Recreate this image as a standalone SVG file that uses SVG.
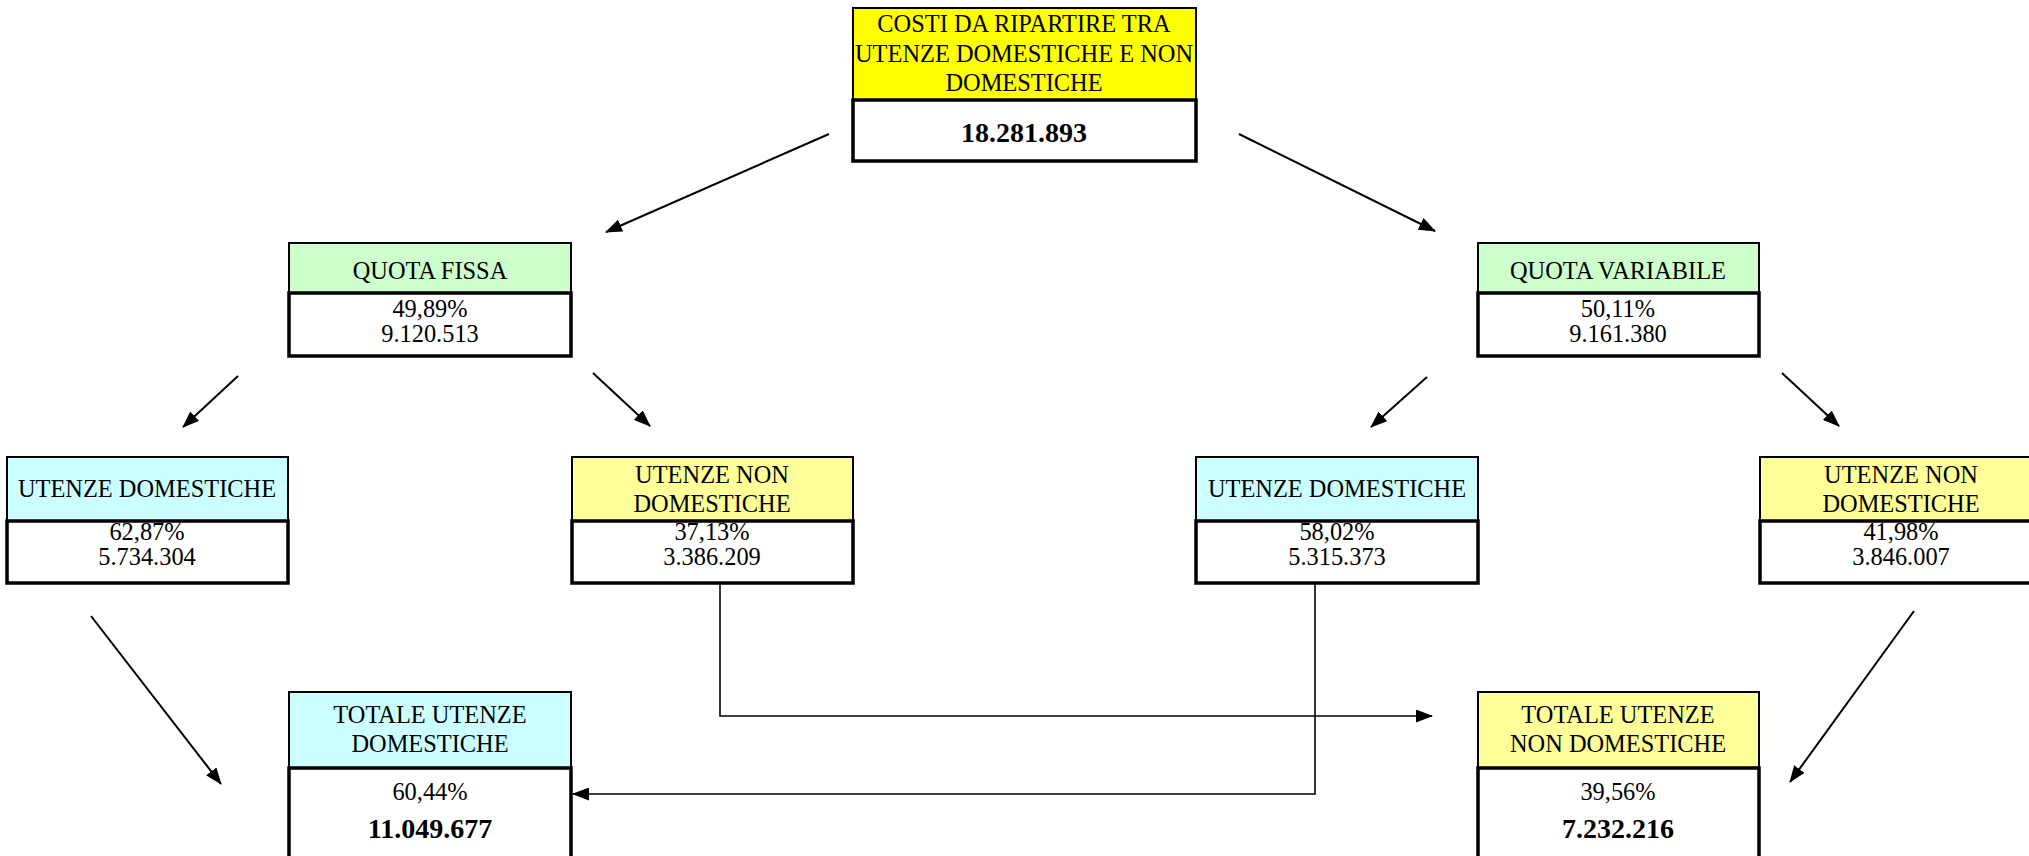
<svg xmlns="http://www.w3.org/2000/svg" width="2029" height="856" viewBox="0 0 2029 856">
<defs>
<marker id="ah" markerUnits="userSpaceOnUse" markerWidth="17" markerHeight="13" refX="16" refY="6.5" orient="auto">
<path d="M0,0 L17,6.5 L0,13 Z" fill="#000"/>
</marker>
<style>
.t{font-family:"Liberation Serif","Times New Roman",serif;font-size:24.4px;fill:#000;text-anchor:middle}
.b{font-family:"Liberation Serif","Times New Roman",serif;font-size:28px;font-weight:bold;fill:#000;text-anchor:middle}
.h{stroke:#000;stroke-width:2}
.v{fill:#fff;stroke:#000;stroke-width:3.5}
.c{fill:none;stroke:#000;stroke-width:2}
.c1{fill:none;stroke:#000;stroke-width:1.6}
</style>
</defs>
<rect width="2029" height="856" fill="#fff"/>
<g id="connectors">
<line class="c" x1="829" y1="134" x2="606" y2="232" marker-end="url(#ah)"/>
<line class="c" x1="1239" y1="134" x2="1435" y2="231" marker-end="url(#ah)"/>
<line class="c" x1="238" y1="376" x2="183" y2="427" marker-end="url(#ah)"/>
<line class="c" x1="593" y1="373" x2="650" y2="426" marker-end="url(#ah)"/>
<line class="c" x1="1427" y1="377" x2="1371" y2="427" marker-end="url(#ah)"/>
<line class="c" x1="1782" y1="373" x2="1839" y2="426" marker-end="url(#ah)"/>
<line class="c" x1="91" y1="616" x2="221" y2="784" marker-end="url(#ah)"/>
<line class="c" x1="1914" y1="611" x2="1790" y2="782" marker-end="url(#ah)"/>
<polyline class="c1" points="720,583 720,716 1432,716" marker-end="url(#ah)"/>
<polyline class="c1" points="1315,583 1315,794 573,794" marker-end="url(#ah)"/>
</g>
<g id="top">
<rect class="h" x="853" y="8" width="343" height="92" fill="#FFFF00"/>
<rect class="v" x="853" y="100" width="343" height="61"/>
<text class="t" x="1024" y="32">COSTI DA RIPARTIRE TRA</text>
<text class="t" x="1024" y="62">UTENZE DOMESTICHE E NON</text>
<text class="t" x="1024" y="91">DOMESTICHE</text>
<text class="b" x="1024" y="142">18.281.893</text>
</g>
<g id="quota-fissa">
<rect class="h" x="289" y="243" width="282" height="50" fill="#CCFFCC"/>
<rect class="v" x="289" y="293" width="282" height="63"/>
<text class="t" x="430" y="279">QUOTA FISSA</text>
<text class="t" x="430" y="317">49,89%</text>
<text class="t" x="430" y="342">9.120.513</text>
</g>
<g id="quota-variabile">
<rect class="h" x="1478" y="243" width="281" height="50" fill="#CCFFCC"/>
<rect class="v" x="1478" y="293" width="281" height="63"/>
<text class="t" x="1618" y="279">QUOTA VARIABILE</text>
<text class="t" x="1618" y="317">50,11%</text>
<text class="t" x="1618" y="342">9.161.380</text>
</g>
<g id="ud-fissa">
<rect class="h" x="7" y="457" width="281" height="64" fill="#CCFFFF"/>
<rect class="v" x="7" y="521" width="281" height="62"/>
<text class="t" x="147" y="497">UTENZE DOMESTICHE</text>
<text class="t" x="147" y="540">62,87%</text>
<text class="t" x="147" y="565">5.734.304</text>
</g>
<g id="und-fissa">
<rect class="h" x="572" y="457" width="281" height="64" fill="#FFFF99"/>
<rect class="v" x="572" y="521" width="281" height="62"/>
<text class="t" x="712" y="483">UTENZE NON</text>
<text class="t" x="712" y="512">DOMESTICHE</text>
<text class="t" x="712" y="540">37,13%</text>
<text class="t" x="712" y="565">3.386.209</text>
</g>
<g id="ud-variabile">
<rect class="h" x="1196" y="457" width="282" height="64" fill="#CCFFFF"/>
<rect class="v" x="1196" y="521" width="282" height="62"/>
<text class="t" x="1337" y="497">UTENZE DOMESTICHE</text>
<text class="t" x="1337" y="540">58,02%</text>
<text class="t" x="1337" y="565">5.315.373</text>
</g>
<g id="und-variabile">
<rect class="h" x="1760" y="457" width="282" height="64" fill="#FFFF99"/>
<rect class="v" x="1760" y="521" width="282" height="62"/>
<text class="t" x="1901" y="483">UTENZE NON</text>
<text class="t" x="1901" y="512">DOMESTICHE</text>
<text class="t" x="1901" y="540">41,98%</text>
<text class="t" x="1901" y="565">3.846.007</text>
</g>
<g id="totale-ud">
<rect class="h" x="289" y="692" width="282" height="76" fill="#CCFFFF"/>
<rect class="v" x="289" y="768" width="282" height="100"/>
<text class="t" x="430" y="723">TOTALE UTENZE</text>
<text class="t" x="430" y="752">DOMESTICHE</text>
<text class="t" x="430" y="800">60,44%</text>
<text class="b" x="430" y="838">11.049.677</text>
</g>
<g id="totale-und">
<rect class="h" x="1478" y="692" width="281" height="76" fill="#FFFF99"/>
<rect class="v" x="1478" y="768" width="281" height="100"/>
<text class="t" x="1618" y="723">TOTALE UTENZE</text>
<text class="t" x="1618" y="752">NON DOMESTICHE</text>
<text class="t" x="1618" y="800">39,56%</text>
<text class="b" x="1618" y="838">7.232.216</text>
</g>
</svg>
